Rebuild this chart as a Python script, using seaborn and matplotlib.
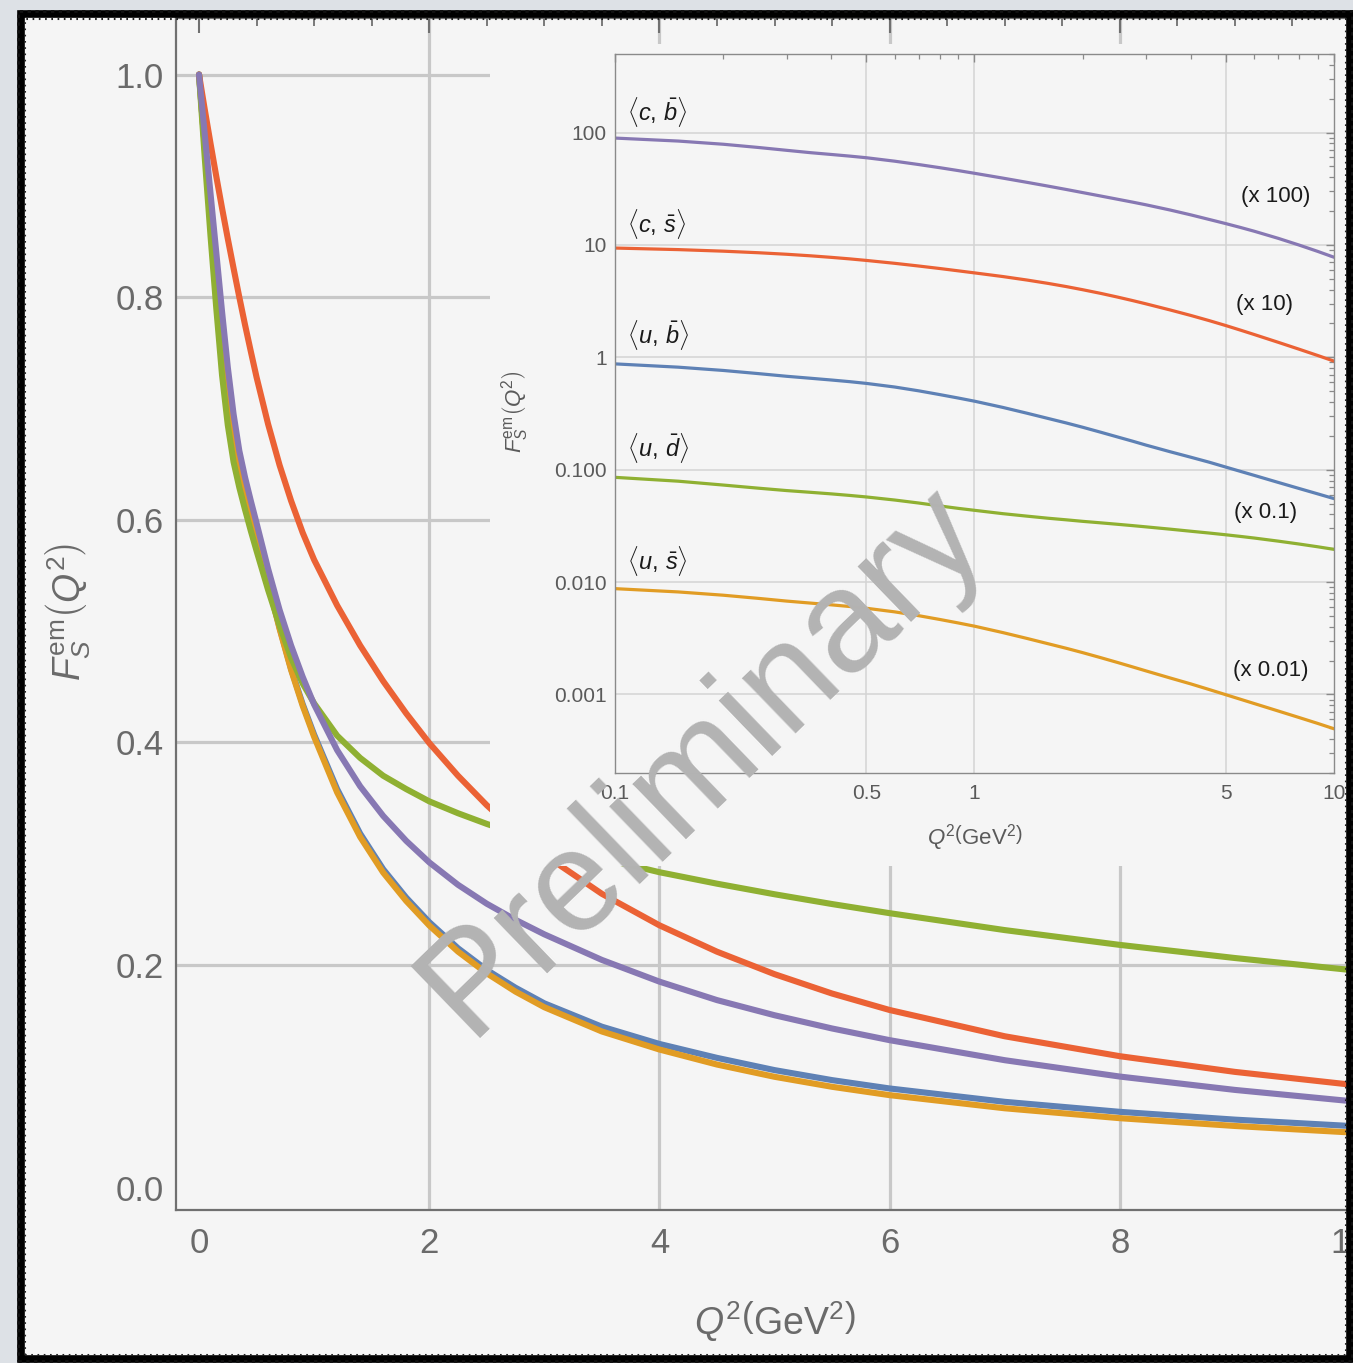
import numpy as np
import pandas as pd
import matplotlib
matplotlib.use("Agg")
import matplotlib.pyplot as plt
import seaborn as sns
from matplotlib.patches import Rectangle
from matplotlib.ticker import FixedLocator, FixedFormatter, NullFormatter

# ---------------- data ----------------
q2 = [0.0, 0.05, 0.1, 0.15, 0.2, 0.25, 0.3, 0.35, 0.4, 0.45, 0.5, 0.6, 0.7, 0.8, 0.9,
      1.0, 1.2, 1.4, 1.6, 1.8, 2.0, 2.25, 2.5, 2.75, 3.0, 3.5, 4.0, 4.5, 5.0, 5.5,
      6.0, 7.0, 8.0, 9.0, 10.0]

F_ub = [1.0, 0.935, 0.874, 0.817, 0.764, 0.7165, 0.678, 0.651, 0.628, 0.607, 0.586,
        0.544, 0.503, 0.466, 0.4345, 0.407, 0.358, 0.318, 0.286, 0.2605, 0.2385, 0.215,
        0.1955, 0.1795, 0.1655, 0.1445, 0.129, 0.1165, 0.1055, 0.0965, 0.089, 0.077,
        0.068, 0.061, 0.0553]
F_us = [1.0, 0.935, 0.874, 0.817, 0.764, 0.7165, 0.6775, 0.650, 0.627, 0.606, 0.585,
        0.543, 0.502, 0.465, 0.433, 0.405, 0.355, 0.315, 0.283, 0.2575, 0.2355, 0.212,
        0.1925, 0.176, 0.162, 0.1402, 0.124, 0.1105, 0.0995, 0.0905, 0.083, 0.0712,
        0.0623, 0.0553, 0.0495]
F_ud = [1.0, 0.925, 0.855, 0.790, 0.730, 0.685, 0.652, 0.629, 0.609, 0.590, 0.572,
        0.537, 0.505, 0.476, 0.453, 0.435, 0.406, 0.386, 0.370, 0.358, 0.347, 0.3363,
        0.3267, 0.3180, 0.3099, 0.2957, 0.2833, 0.2730, 0.2635, 0.2547, 0.2465, 0.2313,
        0.2180, 0.2062, 0.1955]
F_cs = [1.0, 0.9685, 0.938, 0.9085, 0.880, 0.8525, 0.826, 0.800, 0.775, 0.7512, 0.728,
        0.686, 0.649, 0.617, 0.5885, 0.564, 0.523, 0.487, 0.455, 0.426, 0.3994, 0.370,
        0.3435, 0.320, 0.299, 0.2639, 0.2356, 0.2119, 0.1917, 0.1743, 0.1595, 0.1359,
        0.1180, 0.1039, 0.0925]
F_cb = [1.0, 0.946, 0.893, 0.840, 0.787, 0.737, 0.695, 0.662, 0.638, 0.617, 0.597,
        0.556, 0.519, 0.487, 0.459, 0.434, 0.3930, 0.3605, 0.3339, 0.3115, 0.2922, 0.2720,
        0.2550, 0.2405, 0.2275, 0.2045, 0.1850, 0.1684, 0.1548, 0.1429, 0.1324, 0.1144,
        0.0997, 0.0877, 0.0777]

pair_keys = ["ub", "us", "ud", "cs", "cb"]           # drawing order
pair_colors = ["#5E81B5", "#E19C24", "#8FB032", "#EB6235", "#8778B3"]
inset_factor = [1.0, 0.01, 0.1, 10.0, 100.0]
pair_labels = {"cb": r"$\langle c,\,\bar{b}\rangle$",
               "cs": r"$\langle c,\,\bar{s}\rangle$",
               "ub": r"$\langle u,\,\bar{b}\rangle$",
               "ud": r"$\langle u,\,\bar{d}\rangle$",
               "us": r"$\langle u,\,\bar{s}\rangle$"}
factor_labels = {"cb": "(x 100)", "cs": "(x 10)", "ud": "(x 0.1)", "us": "(x 0.01)"}

main_xticks = [0, 2, 4, 6, 8, 10]
main_xticklabels = ["0", "2", "4", "6", "8", "10"]
main_yticks = [0.0, 0.2, 0.4, 0.6, 0.8, 1.0]
main_yticklabels = ["0.0", "0.2", "0.4", "0.6", "0.8", "1.0"]
main_xgrid = [2, 4, 6, 8, 10]
main_ygrid = [0.2, 0.4, 0.6, 0.8, 1.0]

inset_xticks = [0.1, 0.5, 1, 5, 10]
inset_xticklabels = ["0.1", "0.5", "1", "5", "10"]
inset_xminor = [0.2, 0.3, 0.4, 0.6, 0.7, 0.8, 0.9, 2, 3, 4, 6, 7, 8, 9]
inset_yticks = [0.001, 0.01, 0.1, 1, 10, 100]
inset_yticklabels = ["0.001", "0.010", "0.100", "1", "10", "100"]
inset_xgrid = [0.5, 1, 5]

series = {"ub": F_ub, "us": F_us, "ud": F_ud, "cs": F_cs, "cb": F_cb}

rows = []
for k in pair_keys:
    for x, y in zip(q2, series[k]):
        rows.append({"Q2": x, "F": y, "pair": k})
df = pd.DataFrame(rows)

rows_in = []
for k, fac in zip(pair_keys, inset_factor):
    for x, y in zip(q2, series[k]):
        if x >= 0.1:
            rows_in.append({"Q2": x, "F": y * fac, "pair": k})
df_in = pd.DataFrame(rows_in)
palette = dict(zip(pair_keys, pair_colors))

# ---------------- style ----------------
sns.set_theme(style="white")
plt.rcParams["font.family"] = ["Liberation Sans", "DejaVu Sans"]
plt.rcParams["mathtext.fontset"] = "custom"
plt.rcParams["mathtext.rm"] = "Liberation Sans"
plt.rcParams["mathtext.it"] = "Liberation Sans:italic"
plt.rcParams["mathtext.bf"] = "Liberation Sans:bold"

W, H = 1353, 1363
fig = plt.figure(figsize=(W / 100, H / 100), dpi=100)
fig.patch.set_facecolor("#dde1e6")

def fx(px):
    return px / W

def fy(py):
    return (H - py) / H

# inner light panel
fig.patches.append(Rectangle((fx(21), fy(1360)), fx(1350) - fx(21), fy(13) - fy(1360),
                             transform=fig.transFigure, facecolor="#f5f5f5",
                             edgecolor="none", zorder=-5))

# ---------------- main axes ----------------
ax = fig.add_axes([fx(176), fy(1210), (1373 - 176) / W, (1210 - 18) / H])
ax.set_zorder(1)
ax.set_facecolor("none")
for v in main_xgrid:
    ax.axvline(v, color="#c8c8c8", lw=2.3, zorder=0.5)
for h in main_ygrid:
    ax.axhline(h, color="#c8c8c8", lw=2.3, zorder=0.5)

sns.lineplot(data=df, x="Q2", y="F", hue="pair", hue_order=pair_keys, palette=palette,
             estimator=None, sort=False, lw=4.4, legend=False, ax=ax, zorder=2)
for ln in ax.get_lines():
    ln.set_solid_joinstyle("round")
ax.set_xlim(-0.2, 10.2)
ax.set_ylim(-0.0202, 1.0508)
ax.xaxis.set_major_locator(FixedLocator(main_xticks))
ax.xaxis.set_major_formatter(FixedFormatter(main_xticklabels))
ax.xaxis.set_minor_locator(FixedLocator(np.arange(-0.0, 10.01, 0.5)))
ax.yaxis.set_major_locator(FixedLocator(main_yticks))
ax.yaxis.set_major_formatter(FixedFormatter(main_yticklabels))
ax.yaxis.set_minor_locator(FixedLocator(np.arange(0.0, 1.051, 0.05)))
ax.tick_params(which="both", direction="in", top=True, right=True, color="#707070",
               labelcolor="#6a6a6a", labelsize=25)
ax.tick_params(which="major", length=10.5, width=1.5)
ax.tick_params(which="minor", length=5.5, width=1.3)
ax.tick_params(axis="x", pad=12)
ax.tick_params(axis="y", pad=9)
for s in ax.spines.values():
    s.set_color("#707070")
    s.set_linewidth(1.6)
ax.set_xlabel("")
ax.set_ylabel("")
fig.text(fx(775), fy(1322), r"$Q^2\left(\mathrm{GeV}^2\right)$", ha="center", va="center",
         fontsize=27, color="#6a6a6a")
fig.text(fx(68), fy(612), r"$F_S^{\mathrm{em}}\left(Q^2\right)$", ha="center", va="center",
         rotation=90, fontsize=27, color="#6a6a6a")

# ---------------- inset cover ----------------
fig.patches.append(Rectangle((fx(490), fy(866)), (1373 - 490) / W, (866 - 44) / H,
                             transform=fig.transFigure, facecolor="#f5f5f5",
                             edgecolor="none", zorder=1.5))

# ---------------- inset ----------------
ins = fig.add_axes([fx(615), fy(773), (1334 - 615) / W, (773 - 54) / H])
ins.set_zorder(3)
ins.set_facecolor("none")
ins.set_xscale("log")
ins.set_yscale("log")
for v in inset_xgrid:
    ins.axvline(v, color="#d4d4d4", lw=1.1, zorder=0.5)
for h in inset_yticks:
    ins.axhline(h, color="#d4d4d4", lw=1.1, zorder=0.5)
sns.lineplot(data=df_in, x="Q2", y="F", hue="pair", hue_order=pair_keys, palette=palette,
             estimator=None, sort=False, lw=2.3, legend=False, ax=ins, zorder=2)
for ln in ins.get_lines():
    ln.set_solid_joinstyle("round")
ins.set_xlim(0.1, 10)
ins.set_ylim(2e-4, 500)
ins.xaxis.set_major_locator(FixedLocator(inset_xticks))
ins.xaxis.set_major_formatter(FixedFormatter(inset_xticklabels))
ins.xaxis.set_minor_locator(FixedLocator(inset_xminor))
ins.xaxis.set_minor_formatter(NullFormatter())
ins.yaxis.set_major_locator(FixedLocator(inset_yticks))
ins.yaxis.set_major_formatter(FixedFormatter(inset_yticklabels))
yminor = [m * 10.0 ** e for e in range(-4, 3) for m in range(2, 10)]
ins.yaxis.set_minor_locator(FixedLocator(yminor))
ins.yaxis.set_minor_formatter(NullFormatter())
ins.tick_params(which="both", direction="in", top=True, right=True, color="#8a8a8a",
                labelcolor="#5a5a5a", labelsize=15)
ins.tick_params(which="major", length=6, width=1.0)
ins.tick_params(which="minor", length=3.5, width=0.9)
ins.tick_params(axis="x", pad=8)
ins.tick_params(axis="y", pad=6)
for s in ins.spines.values():
    s.set_color("#8a8a8a")
    s.set_linewidth(1.0)
ins.set_xlabel("")
ins.set_ylabel("")
ins.text(0.5007, -0.0904, r"$Q^2\left(\mathrm{GeV}^2\right)$", transform=ins.transAxes,
         ha="center", va="center", fontsize=16, color="#5a5a5a")
ins.text(-0.139, 0.502, r"$F_S^{\mathrm{em}}\left(Q^2\right)$", transform=ins.transAxes,
         ha="center", va="center", rotation=90, fontsize=16, color="#5a5a5a")

label_pos = {"cb": 0.919, "cs": 0.764, "ub": 0.609, "ud": 0.452, "us": 0.295}
for k, yy in label_pos.items():
    ins.text(0.016, yy, pair_labels[k], transform=ins.transAxes, ha="left", va="center",
             fontsize=17, color="#1a1a1a")
factor_pos = {"cb": (0.919, 0.8025), "cs": (0.904, 0.651), "ud": (0.905, 0.362),
              "us": (0.912, 0.143)}
for k, (xx, yy) in factor_pos.items():
    ins.text(xx, yy, factor_labels[k], transform=ins.transAxes, ha="center", va="center",
             fontsize=16, color="#1a1a1a")

# ---------------- watermark ----------------
fig.text(fx(468), fy(1038), "Preliminary", rotation=44, rotation_mode="anchor",
         ha="left", va="baseline", fontsize=104, color="#b3b3b3", zorder=10)

# ---------------- rough border ----------------
fig.patches.append(Rectangle((fx(21), fy(1359)), fx(1350) - fx(21), fy(14) - fy(1359),
                             transform=fig.transFigure, fill=False, edgecolor="black",
                             lw=5.5, zorder=20))
fig.patches.append(Rectangle((fx(18), fy(1361)), fx(1352) - fx(18), fy(11) - fy(1361),
                             transform=fig.transFigure, fill=False, edgecolor="#111111",
                             lw=2.0, ls=(0, (1.2, 1.6)), zorder=20))
fig.patches.append(Rectangle((fx(25), fy(1355)), fx(1346) - fx(25), fy(19) - fy(1355),
                             transform=fig.transFigure, fill=False, edgecolor="#222222",
                             lw=1.5, ls=(0, (0.8, 2.2)), zorder=20))

fig.savefig("out.png", dpi=100, facecolor=fig.get_facecolor())
